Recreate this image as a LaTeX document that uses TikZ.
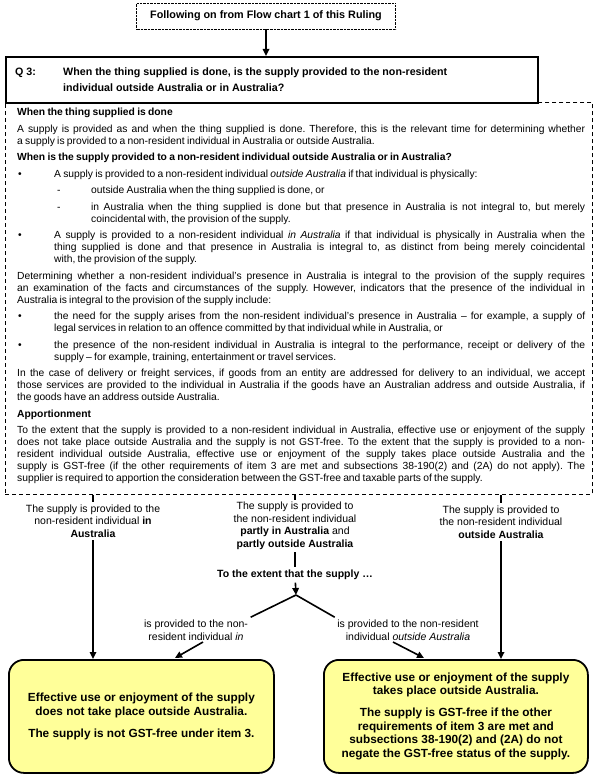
\documentclass[tikz,border=0pt]{standalone}
\usepackage{fontspec}
\setmainfont{Liberation Sans}
\usetikzlibrary{arrows.meta, positioning}

\definecolor{endyellow}{HTML}{FFFF99}
\newcommand{\notebul}{\par\hangindent=37pt\hangafter=0\noindent\llap{\textbullet\hspace{32.5pt}}}
\newcommand{\notedash}{\par\hangindent=74pt\hangafter=0\noindent\llap{-\hspace{30.7pt}}}

\begin{document}
\begin{tikzpicture}[x=1pt, y=-1pt,
    topbox/.style={draw, densely dotted, minimum width=259pt, minimum height=26pt, font=\fontsize{10.8}{13}\selectfont\bfseries},
    qbox/.style={draw, line width=2.4pt, fill=white, minimum width=532pt, minimum height=46pt, inner sep=0pt, font=\fontsize{10.7}{16}\selectfont\bfseries},
    notebox/.style={draw, dash pattern=on 4pt off 3pt, line width=0.8pt, minimum width=587pt, minimum height=392pt, inner sep=0pt},
    bodytext/.style={text width=568pt, align=justify, inner sep=0pt, font=\fontsize{10.3}{12}\selectfont},
    lbl/.style={align=center, inner sep=2.5pt, font=\fontsize{10.5}{12.5}\selectfont},
    endbox/.style={draw, line width=1.8pt, rounded corners=15pt, fill=endyellow, minimum height=113pt, align=center, font=\fontsize{11.8}{13.7}\selectfont\bfseries},
    arr/.style={-{Triangle[length=7pt, width=6.5pt]}, line width=1.6pt},
    ln/.style={line width=1.6pt}
]
    \useasboundingbox (0,0) rectangle (600,776);

    \node[topbox] (follow) at (266,16) {Following on from Flow chart 1 of this Ruling};
    \node[notebox, anchor=north west] (notes) at (5,102) {};
    \node[qbox, anchor=north west] (q3) at (5,56) {\begin{tabular}{@{}p{48pt}@{}p{466pt}@{}}Q 3: & When the thing supplied is done, is the supply provided to the non-resident\newline individual outside Australia or in Australia?\end{tabular}};

    \node[bodytext, anchor=north west] (body) at (17,108) {\setlength{\parskip}{4.5pt}\tolerance=10000 \hyphenpenalty=10000 \frenchspacing
\spaceskip=0.22em plus 0.8em minus 0.05em
\textbf{When the thing supplied is done}\par
A supply is provided as and when the thing supplied is done. Therefore, this is the relevant time for determining whether\linebreak a supply is provided to a non-resident individual in Australia or outside Australia.\par
\textbf{When is the supply provided to a non-resident individual outside Australia or in Australia?}
\notebul A supply is provided to a non-resident individual \textit{outside Australia} if that individual is physically:
\notedash outside Australia when the thing supplied is done, or
\notedash in Australia when the thing supplied is done but that presence in Australia is not integral to, but merely\linebreak coincidental with, the provision of the supply.
\notebul A supply is provided to a non-resident individual \textit{in Australia} if that individual is physically in Australia when the\linebreak thing supplied is done and that presence in Australia is integral to, as distinct from being merely coincidental\linebreak with, the provision of the supply.\par
Determining whether a non-resident individual’s presence in Australia is integral to the provision of the supply requires\linebreak an examination of the facts and circumstances of the supply. However, indicators that the presence of the individual in\linebreak Australia is integral to the provision of the supply include:
\notebul the need for the supply arises from the non-resident individual’s presence in Australia – for example, a supply of\linebreak legal services in relation to an offence committed by that individual while in Australia, or
\notebul the presence of the non-resident individual in Australia is integral to the performance, receipt or delivery of the\linebreak supply – for example, training, entertainment or travel services.\par
In the case of delivery or freight services, if goods from an entity are addressed for delivery to an individual, we accept\linebreak those services are provided to the individual in Australia if the goods have an Australian address and outside Australia, if\linebreak the goods have an address outside Australia.\par
\textbf{Apportionment}\par
To the extent that the supply is provided to a non-resident individual in Australia, effective use or enjoyment of the supply\linebreak does not take place outside Australia and the supply is not GST-free. To the extent that the supply is provided to a non-\linebreak resident individual outside Australia, effective use or enjoyment of the supply takes place outside Australia and the\linebreak supply is GST-free (if the other requirements of item 3 are met and subsections 38-190(2) and (2A) do not apply). The\linebreak supplier is required to apportion the consideration between the GST-free and taxable parts of the supply.\par};

    % three outcomes
    \node[lbl] (inAus) at (93,521) {The supply is provided to the\\non-resident individual \textbf{in}\\\textbf{Australia}};
    \node[lbl] (partly) at (295,526) {The supply is provided to\\the non-resident individual\\\textbf{partly in Australia} and\\\textbf{partly outside Australia}};
    \node[lbl] (outAus) at (501,522) {The supply is provided to\\the non-resident individual\\\textbf{outside Australia}};

    \node[lbl, font=\fontsize{10.5}{12.5}\selectfont\bfseries] (extent) at (295,575) {To the extent that the supply …};
    \coordinate (split) at (296,595);
    \node[lbl] (inL) at (196,630) {is provided to the non-\\resident individual \textit{in}};
    \node[lbl] (inR) at (408,630) {is provided to the non-resident\\individual \textit{outside Australia}};
    \coordinate (inLfoot) at (203,642);
    \coordinate (inLtip) at (175,658);
    \coordinate (inRfoot) at (393,642);
    \coordinate (inRtip) at (424,658);

    \node[endbox, minimum width=265pt, anchor=north west] (noGST) at (8,659) {Effective use or enjoyment of the supply\\does not take place outside Australia.\\[8pt]The supply is not GST-free under item 3.};
    \node[endbox, minimum width=264pt, anchor=north west] (GSTfree) at (323,659) {Effective use or enjoyment of the supply\\takes place outside Australia.\\[8pt]The supply is GST-free if the other\\requirements of item 3 are met and\\subsections 38-190(2) and (2A) do not\\negate the GST-free status of the supply.};

    \draw[arr] (follow) -- (follow |- q3.north);
    \draw[ln] (inAus.north |- notes.south) -- (inAus.north);
    \draw[ln] (partly.north |- notes.south) -- (partly.north);
    \draw[ln] (outAus.north |- notes.south) -- (outAus.north);
    \draw[arr] (inAus) -- (inAus |- noGST.north);
    \draw[arr] (outAus) -- (outAus |- GSTfree.north);
    \draw[ln] (partly) -- (extent);
    \draw[arr] (extent) -- (split);
    \draw[ln] (split) -- (inL.north east);
    \draw[ln] (split) -- (inR.north west);
    \draw[arr] (inLfoot) -- (inLtip);
    \draw[arr] (inRfoot) -- (inRtip);
\end{tikzpicture}
\end{document}
